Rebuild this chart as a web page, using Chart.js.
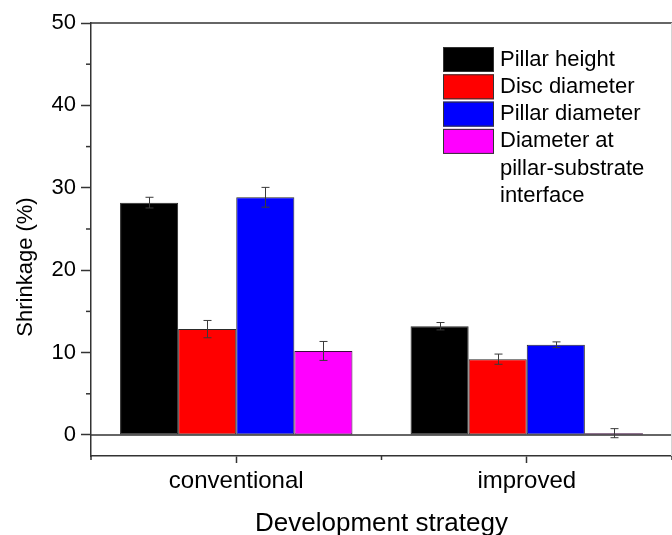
<!DOCTYPE html>
<html>
<head>
<meta charset="utf-8">
<script src="https://cdn.jsdelivr.net/npm/chart.js@4/dist/chart.umd.min.js"></script>
<style>
  html, body { margin: 0; padding: 0; background: #ffffff; }
  #wrap { width: 672px; height: 535px; position: relative; }
</style>
</head>
<body>
<div id="wrap"><canvas id="c" width="672" height="535"></canvas></div>
<script>
// ---- data ----
const categories = ['conventional', 'improved'];
const seriesNames = ['Pillar height', 'Disc diameter', 'Pillar diameter', 'Diameter at pillar-substrate interface'];
const legendLines = [['Pillar height'], ['Disc diameter'], ['Pillar diameter'], ['Diameter at', 'pillar-substrate', 'interface']];
const pillarHeight = [28.2, 13.2];
const pillarHeightErr = [0.65, 0.45];
const discDiameter = [12.85, 9.2];
const discDiameterErr = [1.05, 0.62];
const pillarDiameter = [28.85, 10.95];
const pillarDiameterErr = [1.2, 0.35];
const interfaceDiameter = [10.2, 0.22];
const interfaceDiameterErr = [1.15, 0.55];
const yMajorTicks = [0, 10, 20, 30, 40, 50];
const yMinorTicks = [5, 15, 25, 35, 45];
const yTitle = 'Shrinkage (%)';
const xTitle = 'Development strategy';

const seriesColors = ['#000000', '#ff0000', '#0000ff', '#ff00ff'];
const seriesValues = [pillarHeight, discDiameter, pillarDiameter, interfaceDiameter];
const seriesErrors = [pillarHeightErr, discDiameterErr, pillarDiameterErr, interfaceDiameterErr];

const FONT = "'Liberation Sans', Arial, sans-serif";
const AXIS = '#333333';

const framePlugin = {
  id: 'frame',
  beforeDatasetsDraw(chart) {
    const ctx = chart.ctx;
    const y = chart.scales.y;
    const ca = chart.chartArea;
    ctx.save();
    ctx.strokeStyle = AXIS;
    ctx.lineWidth = 1.5;
    [50, 0].forEach(v => {
      const py = y.getPixelForValue(v);
      ctx.beginPath(); ctx.moveTo(ca.left, py); ctx.lineTo(ca.right, py); ctx.stroke();
    });
    ctx.strokeStyle = '#d4d4d4';
    ctx.lineWidth = 1;
    ctx.beginPath(); ctx.moveTo(ca.right - 0.5, ca.top); ctx.lineTo(ca.right - 0.5, ca.bottom); ctx.stroke();
    ctx.restore();
  }
};

const decorPlugin = {
  id: 'decor',
  afterDatasetsDraw(chart) {
    const ctx = chart.ctx;
    const x = chart.scales.x, y = chart.scales.y;
    const ca = chart.chartArea;
    ctx.save();
    // error bars
    ctx.strokeStyle = '#3a3a3a';
    ctx.lineWidth = 1;
    chart.data.datasets.forEach((ds, di) => {
      const meta = chart.getDatasetMeta(di);
      meta.data.forEach((bar, i) => {
        const v = ds.data[i], e = seriesErrors[di][i];
        const cx = Math.round(bar.x) + 0.5;
        const yt = y.getPixelForValue(v + e), yb = y.getPixelForValue(v - e);
        ctx.beginPath();
        ctx.moveTo(cx, yt); ctx.lineTo(cx, yb);
        ctx.moveTo(cx - 4, yt); ctx.lineTo(cx + 4, yt);
        ctx.moveTo(cx - 4, yb); ctx.lineTo(cx + 4, yb);
        ctx.stroke();
      });
    });
    // minor y ticks
    ctx.strokeStyle = AXIS;
    ctx.lineWidth = 1.5;
    yMinorTicks.forEach(v => {
      const py = y.getPixelForValue(v);
      ctx.beginPath(); ctx.moveTo(ca.left - 5, py); ctx.lineTo(ca.left, py); ctx.stroke();
    });
    // minor x ticks at category boundaries
    const n = categories.length;
    for (let i = 0; i <= n; i++) {
      const px = x.getPixelForValue(i - 0.5);
      ctx.beginPath(); ctx.moveTo(px, ca.bottom); ctx.lineTo(px, ca.bottom + 4); ctx.stroke();
    }
    // axis titles
    ctx.fillStyle = '#000';
    ctx.font = '22px ' + FONT;
    ctx.textAlign = 'center';
    ctx.textBaseline = 'middle';
    ctx.save();
    ctx.translate(26, 267);
    ctx.rotate(-Math.PI / 2);
    ctx.fillText(yTitle, 0, 0);
    ctx.restore();
    ctx.font = '26px ' + FONT;
    ctx.textBaseline = 'alphabetic';
    ctx.fillText(xTitle, (ca.left + ca.right) / 2, 531);
    // legend
    const lx = 443, bw = 51, bh = 25, pitch = 27.3;
    let ly = 47;
    ctx.font = '22px ' + FONT;
    ctx.textAlign = 'left';
    ctx.textBaseline = 'middle';
    chart.data.datasets.forEach((ds, di) => {
      ctx.fillStyle = ds.backgroundColor;
      ctx.fillRect(lx, ly, bw, bh);
      ctx.strokeStyle = '#333';
      ctx.lineWidth = 1;
      ctx.strokeRect(lx + 0.5, ly + 0.5, bw - 1, bh - 1);
      ctx.fillStyle = '#000';
      const lines = legendLines[di];
      lines.forEach((t, li) => {
        ctx.fillText(t, lx + bw + 6, ly + bh / 2 + li * pitch);
      });
      ly += pitch;
    });
    ctx.restore();
  }
};

new Chart(document.getElementById('c'), {
  type: 'bar',
  data: {
    labels: categories,
    datasets: seriesNames.map((name, i) => ({
      label: name,
      data: seriesValues[i],
      backgroundColor: seriesColors[i],
      borderColor: i === 3 ? '#3a0a3a' : '#2a2a2a',
      borderWidth: 1,
      borderSkipped: false,
      categoryPercentage: 0.8,
      barPercentage: 1.0
    }))
  },
  options: {
    responsive: false,
    animation: false,
    devicePixelRatio: 1,
    layout: { padding: { top: 23, right: 0, left: 0, bottom: 0 } },
    plugins: { legend: { display: false }, tooltip: { enabled: false } },
    scales: {
      x: {
        type: 'category',
        offset: true,
        grid: { display: true, drawOnChartArea: false, drawTicks: true, tickLength: 7, offset: false, tickColor: AXIS, tickWidth: 1.5 },
        border: { display: true, color: AXIS, width: 1.5 },
        ticks: { color: '#000', font: { family: FONT, size: 24 }, padding: 4 },
        afterFit(s) { s.height = 79; }
      },
      y: {
        min: -2.55,
        max: 50,
        grid: { display: true, drawOnChartArea: false, drawTicks: true, tickLength: 10, tickColor: AXIS, tickWidth: 1.5 },
        border: { display: true, color: AXIS, width: 1.5 },
        ticks: { color: '#000', font: { family: FONT, size: 22 }, padding: 5 },
        afterBuildTicks(s) { s.ticks = yMajorTicks.map(v => ({ value: v })); },
        afterFit(s) { s.width = 91; }
      }
    }
  },
  plugins: [framePlugin, decorPlugin]
});
</script>
</body>
</html>
